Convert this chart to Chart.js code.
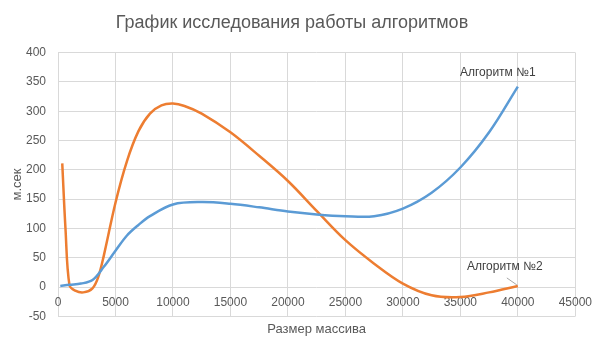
<!DOCTYPE html>
<html lang="ru">
<head>
    <meta charset="UTF-8">
    <title>График исследования работы алгоритмов</title>
    <script src="https://cdn.jsdelivr.net/npm/chart.js"></script>
    <style>
        html, body { margin: 0; padding: 0; background: #ffffff; }
        #wrap { width: 600px; height: 342px; }
    </style>
</head>
<body>
    <div id="wrap"><canvas id="chart"></canvas></div>

    <script>
        // Алгоритм №1 (blue)
        const algo1X = [200, 1000, 2000, 3000, 4000, 5000, 6000, 7000, 8000, 10000, 12500, 15000, 17500, 20000, 22500, 25000, 27500, 30000, 32500, 35000, 37500, 40000];
        const algo1Y = [2, 4, 6, 12, 35, 62, 88, 106, 121, 141, 145, 142, 136, 129, 124, 121, 121, 134, 161, 204, 264, 342];

        // Алгоритм №2 (orange)
        const algo2X = [370, 650, 1000, 1500, 2200, 3000, 3500, 4000, 5000, 6000, 7000, 8000, 9000, 10000, 11000, 12500, 15000, 17500, 20000, 22500, 25000, 27500, 30000, 32500, 35000, 37500, 40000];
        const algo2Y = [211, 100, 3, -6, -9, -2, 17, 55, 144, 215, 266, 296, 310, 313, 309, 296, 264, 224, 181, 130, 80, 40, 6, -14, -17, -9, 2];

        const seriesNames = ['Алгоритм №1', 'Алгоритм №2'];
        const seriesColors = ['#5B9BD5', '#ED7D31'];

        const xTicks = { min: 0, max: 45000, step: 5000 };
        const yTicks = { min: -50, max: 400, step: 50 };

        const toPoints = (xs, ys) => xs.map((x, i) => ({ x: x, y: ys[i] }));

        const textColor = '#595959';
        const gridColor = '#D9D9D9';
        const fontFamily = '"Liberation Sans", Arial, sans-serif';

        // labels next to the last point of each line
        const endLabels = {
            id: 'endLabels',
            afterDatasetsDraw(chart) {
                const ctx = chart.ctx;
                const xs = chart.scales.x, ys = chart.scales.y;
                ctx.save();
                ctx.font = '12px ' + fontFamily;
                ctx.fillStyle = '#404040';
                ctx.textAlign = 'center';
                ctx.textBaseline = 'middle';

                const p1 = chart.data.datasets[0].data.at(-1);
                const x1 = xs.getPixelForValue(p1.x), y1 = ys.getPixelForValue(p1.y);
                ctx.fillText(seriesNames[0], x1 - 20, y1 - 14);

                const p2 = chart.data.datasets[1].data.at(-1);
                const x2 = xs.getPixelForValue(p2.x), y2 = ys.getPixelForValue(p2.y);
                ctx.fillText(seriesNames[1], x2 - 13, y2 - 19);
                ctx.strokeStyle = '#A6A6A6';
                ctx.lineWidth = 1;
                ctx.beginPath();
                ctx.moveTo(x2 - 11, y2 - 8);
                ctx.lineTo(x2 - 1, y2 - 1);
                ctx.stroke();
                ctx.restore();
            }
        };

        const lineStyle = {
            showLine: true,
            borderWidth: 2.5,
            pointRadius: 0,
            tension: 0.35
        };

        new Chart(document.getElementById('chart'), {
            type: 'scatter',
            data: {
                datasets: [
                    Object.assign({
                        label: seriesNames[0],
                        data: toPoints(algo1X, algo1Y),
                        borderColor: seriesColors[0],
                        backgroundColor: seriesColors[0]
                    }, lineStyle),
                    Object.assign({
                        label: seriesNames[1],
                        data: toPoints(algo2X, algo2Y),
                        borderColor: seriesColors[1],
                        backgroundColor: seriesColors[1]
                    }, lineStyle)
                ]
            },
            options: {
                responsive: true,
                maintainAspectRatio: false,
                animation: false,
                layout: { padding: { top: 4, right: 22, bottom: 5, left: 6 } },
                plugins: {
                    legend: { display: false },
                    tooltip: { enabled: false },
                    title: {
                        display: true,
                        text: 'График исследования работы алгоритмов',
                        color: textColor,
                        font: { family: fontFamily, size: 18, weight: 'normal' },
                        padding: { top: 8, bottom: 19 }
                    }
                },
                scales: {
                    x: {
                        type: 'linear',
                        position: { y: 0 },
                        min: xTicks.min,
                        max: xTicks.max,
                        ticks: {
                            stepSize: xTicks.step,
                            color: textColor,
                            font: { family: fontFamily, size: 12 },
                            padding: 8,
                            maxRotation: 0,
                            callback: (v) => String(v)
                        },
                        grid: { color: gridColor, drawTicks: false },
                        border: { display: false }
                    },
                    x2: {
                        type: 'linear',
                        axis: 'x',
                        position: 'bottom',
                        min: xTicks.min,
                        max: xTicks.max,
                        ticks: { display: false },
                        grid: { display: false, drawTicks: false },
                        border: { display: false },
                        title: {
                            display: true,
                            text: 'Размер массива',
                            color: textColor,
                            font: { family: fontFamily, size: 13 },
                            padding: { top: 5, bottom: 0 }
                        }
                    },
                    y: {
                        min: yTicks.min,
                        max: yTicks.max,
                        afterFit: (scale) => { scale.width = 52; },
                        ticks: {
                            stepSize: yTicks.step,
                            color: textColor,
                            font: { family: fontFamily, size: 12 },
                            padding: 12
                        },
                        grid: { color: gridColor, drawTicks: false },
                        border: { display: false },
                        title: {
                            display: true,
                            text: 'м.сек',
                            color: textColor,
                            font: { family: fontFamily, size: 13 },
                            padding: { top: 4, bottom: 0 }
                        }
                    }
                }
            },
            plugins: [endLabels]
        });
    </script>
</body>
</html>
